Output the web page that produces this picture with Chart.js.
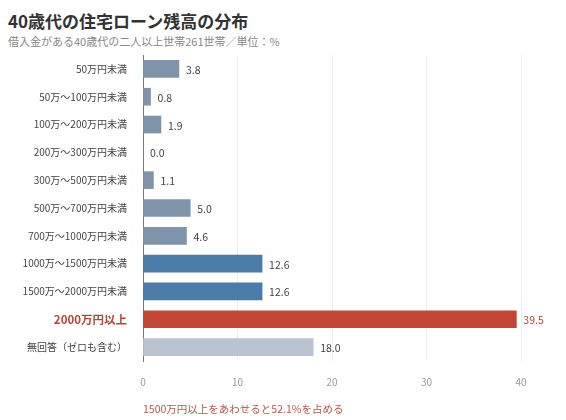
<!DOCTYPE html>
<html><head><meta charset="utf-8">
<script src="https://cdn.jsdelivr.net/npm/chart.js@4"></script>
<style>
body{margin:0;background:#fff;font-family:"Noto Sans CJK JP","Noto Sans",sans-serif;}
#t{position:absolute;left:8px;top:8px;font-size:17px;font-weight:bold;color:#333;}
#s{position:absolute;left:8px;top:33px;font-size:11px;color:#888;}
#f{position:absolute;left:143px;top:401px;font-size:10.5px;color:#b5574a;}
#w{position:absolute;left:0;top:41px;width:566px;height:362px;}
</style></head><body>
<div id="t">40歳代の住宅ローン残高の分布</div>
<div id="s">借入金がある40歳代の二人以上世帯261世帯／単位：%</div>
<div id="w"><canvas id="c"></canvas></div>
<div id="f">1500万円以上をあわせると52.1%を占める</div>
<script>
const categories=["50万円未満","50万～100万円未満","100万～200万円未満","200万～300万円未満","300万～500万円未満","500万～700万円未満","700万～1000万円未満","1000万～1500万円未満","1500万～2000万円未満","2000万円以上","無回答（ゼロも含む）"];
const values=[3.8,0.8,1.9,0.0,1.1,5.0,4.6,12.6,12.6,39.5,18.0];
const colors=["#7f94aa","#7f94aa","#7f94aa","#7f94aa","#7f94aa","#7f94aa","#7f94aa","#4b7ba7","#4b7ba7","#c14636","#b9c4d0"];
const xTicks=[0,10,20,30,40];
const hi=9;
const labelPlugin={id:'lbl',afterDatasetsDraw(ch){const ctx=ch.ctx;const meta=ch.getDatasetMeta(0);
ctx.save();ctx.font='10.5px "Noto Sans CJK JP"';ctx.textBaseline='middle';
meta.data.forEach((b,i)=>{ctx.fillStyle=i===hi?'#b5473a':'#444';ctx.fillText(values[i].toFixed(1),b.x+7,b.y+1);});ctx.restore();}};
new Chart(document.getElementById('c'),{type:'bar',
data:{labels:categories,datasets:[{data:values,backgroundColor:colors,barThickness:17}]},
options:{indexAxis:'y',responsive:true,maintainAspectRatio:false,animation:false,
layout:{padding:{left:0,right:26,top:0,bottom:0}},
plugins:{legend:{display:false},tooltip:{enabled:false}},
scales:{x:{min:0,max:42,afterBuildTicks(a){a.ticks=xTicks.map(v=>({value:v}));},
grid:{color:'#eee',drawTicks:false},border:{display:false},
ticks:{color:'#999',font:{size:10,family:'Noto Sans CJK JP'},padding:15}},
y:{afterFit(a){a.width=143;},grid:{display:false},border:{color:'#777'},
ticks:{padding:8,color:(c)=>c.index===hi?'#b5473a':'#444',font:(c)=>({size:c.index===hi?11.5:10,weight:c.index===hi?'bold':'normal',family:'Noto Sans CJK JP'})}}}},
plugins:[labelPlugin]});
</script></body></html>
